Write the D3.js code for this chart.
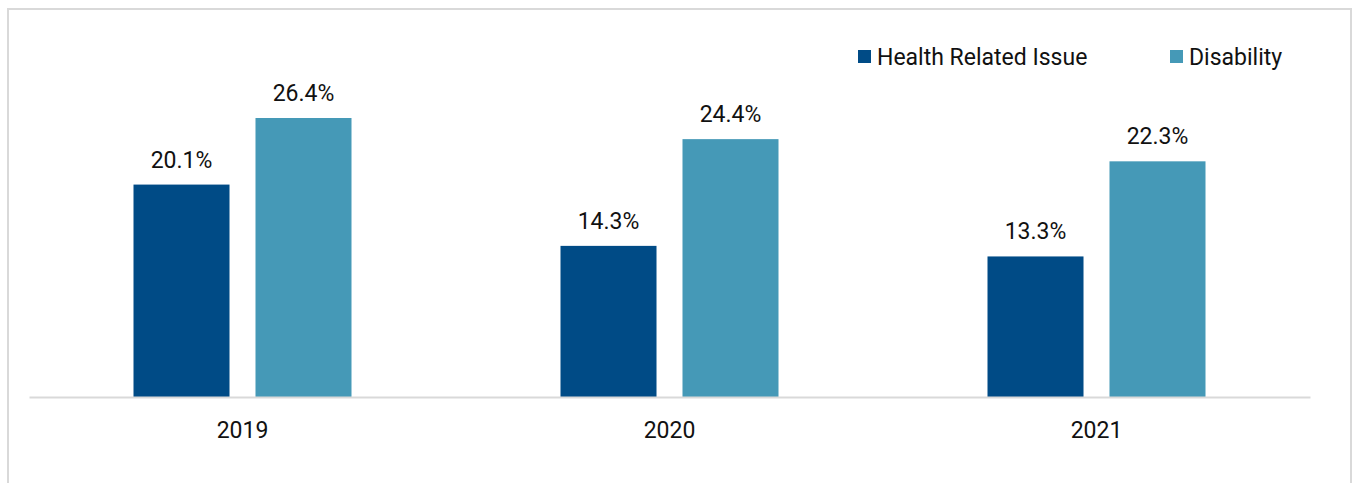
<!DOCTYPE html>
<html>
<head>
<meta charset="utf-8">
<title>Health Related Issue vs Disability</title>
<script src="https://cdn.jsdelivr.net/npm/d3@7/dist/d3.min.js"></script>
<style>
  body { margin: 0; background: #fff; font-family: Roboto, "Noto Sans", sans-serif; }
</style>
</head>
<body>
<script>
// data
var years = ["2019", "2020", "2021"];
var seriesNames = ["Health Related Issue", "Disability"];
var healthValues = [20.1, 14.3, 13.3];
var disabilityValues = [26.4, 24.4, 22.3];
var colors = ["#004b86", "#4599b7"];

var W = 1353, H = 483;
var baseY = 397;
var fs = 23;

var svg = d3.select("body").append("svg")
    .attr("width", W)
    .attr("height", H);

// frame
svg.append("rect")
    .attr("x", 8).attr("y", 9)
    .attr("width", 1343).attr("height", 490)
    .attr("fill", "none")
    .attr("stroke", "#d9d9d9")
    .attr("stroke-width", 2);

var x = d3.scaleBand()
    .domain(years)
    .range([29, 1310]);

// two bars of ~96px with a ~26px gap, centred in each year band
var xInner = d3.scaleBand()
    .domain(seriesNames)
    .range([x.bandwidth() / 2 - 109, x.bandwidth() / 2 + 109])
    .paddingInner(0.213);

var y = d3.scaleLinear()
    .domain([0, 26.4])
    .range([baseY, 118]);

var rows = years.map(function(yr, i) {
  return { year: yr, values: [healthValues[i], disabilityValues[i]] };
});

var groups = svg.selectAll(".grp")
    .data(rows)
  .enter().append("g")
    .attr("class", "grp")
    .attr("transform", function(d) { return "translate(" + x(d.year) + ",0)"; });

var bars = groups.selectAll("g.bar")
    .data(function(d) { return d.values.map(function(v, j) { return { name: seriesNames[j], v: v, j: j }; }); })
  .enter().append("g").attr("class", "bar");

bars.append("rect")
    .attr("x", function(d) { return xInner(d.name); })
    .attr("width", xInner.bandwidth())
    .attr("y", function(d) { return y(d.v); })
    .attr("height", function(d) { return baseY - y(d.v); })
    .attr("fill", function(d) { return colors[d.j]; });

bars.append("text")
    .attr("x", function(d) { return xInner(d.name) + xInner.bandwidth() / 2; })
    .attr("y", function(d) { return y(d.v) - 17; })
    .attr("text-anchor", "middle")
    .attr("font-size", fs)
    .attr("fill", "#111")
    .text(function(d) { return d.v.toFixed(1) + "%"; });

// x axis
var xAxis = svg.append("g")
    .attr("transform", "translate(0," + baseY + ")")
    .call(d3.axisBottom(x).tickSize(0).tickPadding(25));
xAxis.select(".domain").attr("stroke", "#d9d9d9").attr("stroke-width", 2);
xAxis.selectAll("text")
    .attr("font-family", "Roboto, sans-serif")
    .attr("font-size", fs)
    .attr("fill", "#111");

// legend
var legendX = [858, 1170];
var legend = svg.selectAll(".leg")
    .data(seriesNames)
  .enter().append("g")
    .attr("class", "leg")
    .attr("transform", function(d, i) { return "translate(" + legendX[i] + ",50)"; });
legend.append("rect")
    .attr("width", 13).attr("height", 13)
    .attr("fill", function(d, i) { return colors[i]; });
legend.append("text")
    .attr("x", 19).attr("y", 7)
    .attr("dy", "0.35em")
    .attr("font-size", fs)
    .attr("fill", "#111")
    .text(function(d) { return d; });
</script>
</body>
</html>
